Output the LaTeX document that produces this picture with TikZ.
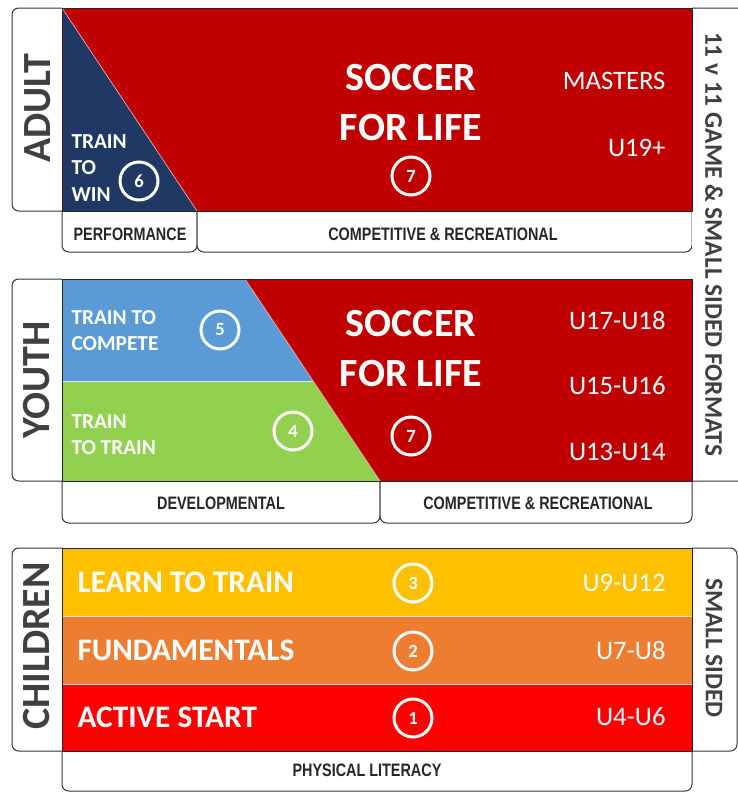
\documentclass[tikz,border=0pt]{standalone}
\usepackage{fontspec}
\setmainfont{Carlito}
\newfontfamily\narrowfont[FakeStretch=0.8]{Liberation Sans}

\definecolor{sflred}{RGB}{192,0,0}
\definecolor{winnavy}{RGB}{31,56,100}
\definecolor{compblue}{RGB}{91,155,213}
\definecolor{traingreen}{RGB}{146,208,80}
\definecolor{learnyellow}{RGB}{255,192,0}
\definecolor{fundorange}{RGB}{237,125,49}
\definecolor{startred}{RGB}{255,0,0}
\definecolor{lblgray}{RGB}{64,64,64}

\tikzset{every picture/.style={line width=0.75pt}}

\begin{document}
\begin{tikzpicture}[x=0.75pt,y=0.75pt,yscale=-1,xscale=1,
		labelbox/.style={draw=black!80,fill=white,rounded corners=5},
		bandline/.style={draw=black!85},
		agelbl/.style={rotate=90,text=lblgray,font=\fontsize{30}{30}\selectfont\bfseries,inner sep=0.75pt},
		fmtlbl/.style={rotate=-90,text=lblgray,font=\fontsize{19}{19}\selectfont\bfseries,inner sep=0.75pt},
		sfltxt/.style={text=white,align=center,font=\fontsize{30}{37.5}\selectfont\bfseries,inner sep=0.75pt},
		stagetxt/.style={anchor=west,text=white,align=left,font=\fontsize{16}{20}\selectfont\bfseries,inner sep=0.75pt},
		bartxt/.style={anchor=west,text=white,font=\fontsize{23.5}{23.5}\selectfont\bfseries,inner sep=0.75pt},
		agegrp/.style={anchor=east,text=white,font=\fontsize{20}{20}\selectfont,inner sep=0.75pt},
		stepnum/.style={circle,draw=white,line width=2.25pt,minimum size=28.5pt,inner sep=0pt,text=white,font=\fontsize{14}{14}\selectfont\bfseries},
		cattxt/.style={text=black!85,font=\narrowfont\fontsize{13.5}{13.5}\selectfont\bfseries,inner sep=0.75pt}]
		\useasboundingbox (0,0) rectangle (738,793);
		
		%Shape: label boxes, adult
		\draw [labelbox] (62,8) -- (12,8) -- (12,211) -- (62,211) ;
		\draw [labelbox] (62,211) -- (62,252) -- (197,252) -- (197,211) ;
		\draw [labelbox] (197,211) -- (197,252) -- (692,252) -- (692,211) ;
		\draw [labelbox] (692,8) -- (745,8) -- (745,481) -- (692,481) ;
		%Shape: Rectangle, soccer for life adult
		\draw [bandline,fill=sflred] (62,8) -- (692,8) -- (692,211) -- (62,211) -- cycle ;
		%Shape: Triangle, train to win
		\fill [winnavy] (62,8) -- (197,211) -- (62,211) -- cycle ;
		\draw [white!70!sflred,line width=0.5pt] (62,8) -- (197,211) ;
		\draw [bandline] (62,8) -- (692,8) -- (692,211) -- (62,211) -- cycle ;
		
		%Shape: label boxes, youth
		\draw [labelbox] (62,279) -- (12,279) -- (12,481) -- (62,481) ;
		\draw [labelbox] (62,481) -- (62,523) -- (380,523) -- (380,481) ;
		\draw [labelbox] (380,481) -- (380,523) -- (692,523) -- (692,481) ;
		%Shape: Rectangle, soccer for life youth
		\fill [sflred] (62,279) -- (692,279) -- (692,481) -- (62,481) -- cycle ;
		\fill [compblue] (62,279) -- (245,279) -- (313,381) -- (62,381) -- cycle ;
		\fill [traingreen] (62,381) -- (313,381) -- (380,481) -- (62,481) -- cycle ;
		\draw [white!75!compblue,line width=0.5pt] (62,381) -- (313,381) ;
		\draw [white!70!sflred,line width=0.5pt] (245,279) -- (380,481) ;
		\draw [bandline] (62,279) -- (692,279) -- (692,481) -- (62,481) -- cycle ;
		
		%Shape: label boxes, children
		\draw [labelbox] (62,548) -- (12,548) -- (12,751) -- (62,751) ;
		\draw [labelbox] (692,548) -- (737,548) -- (737,751) -- (692,751) ;
		\draw [labelbox] (62,751) -- (62,791) -- (692,791) -- (692,751) ;
		%Shape: Rectangle, children bars
		\fill [learnyellow] (62,548) rectangle (692,616) ;
		\fill [fundorange] (62,616) rectangle (692,684) ;
		\fill [startred] (62,684) rectangle (692,751) ;
		\draw [white!70!fundorange,line width=0.5pt] (62,616) -- (692,616) (62,684) -- (692,684) ;
		\draw [bandline] (62,548) -- (692,548) -- (692,751) -- (62,751) -- cycle ;
		
		%age labels
		\draw (38,108) node [agelbl] (adult) {ADULT};
		\draw (37,380) node [agelbl] (youth) {YOUTH};
		\draw (37,646) node [agelbl] (children) {CHILDREN};
		\draw (714,244) node [fmtlbl] (fullgame) {11 v 11 GAME \& SMALL SIDED FORMATS};
		\draw (714,648) node [fmtlbl] (smallsided) {SMALL SIDED};
		
		%adult texts
		\draw (411,103) node [sfltxt] (sflA) {SOCCER\\FOR LIFE};
		\draw (411,176) node [stepnum] (stepA7) {7};
		\draw (70,168) node [stagetxt] (win) {TRAIN\\TO\\WIN};
		\draw (139,181) node [stepnum] (step6) {6};
		\draw (667,81) node [agegrp] (masters) {MASTERS};
		\draw (667,148) node [agegrp] (u19) {U19+};
		\draw (130,234) node [cattxt] (perf) {PERFORMANCE};
		\draw (443,234) node [cattxt] (compA) {COMPETITIVE \& RECREATIONAL};
		
		%youth texts
		\draw (411,349) node [sfltxt] (sflY) {SOCCER\\FOR LIFE};
		\draw (411,436) node [stepnum] (stepY7) {7};
		\draw (70,330.5) node [stagetxt] (compete) {TRAIN TO\\COMPETE};
		\draw (220,330) node [stepnum] (step5) {5};
		\draw (70,434.5) node [stagetxt] (totrain) {TRAIN\\TO TRAIN};
		\draw (293,431) node [stepnum] (step4) {4};
		\draw (667,320) node [agegrp] (u17) {U17-U18};
		\draw (667,386) node [agegrp] (u15) {U15-U16};
		\draw (667,452) node [agegrp] (u13) {U13-U14};
		\draw (221,503) node [cattxt] (devel) {DEVELOPMENTAL};
		\draw (538,503) node [cattxt] (compY) {COMPETITIVE \& RECREATIONAL};
		
		%children texts
		\draw (76,582) node [bartxt] (learn) {LEARN TO TRAIN};
		\draw (76,650) node [bartxt] (fund) {FUNDAMENTALS};
		\draw (76,717) node [bartxt] (active) {ACTIVE START};
		\draw (413,583) node [stepnum] (step3) {3};
		\draw (413,651) node [stepnum] (step2) {2};
		\draw (413,718) node [stepnum] (step1) {1};
		\draw (667,583) node [agegrp] (u9) {U9-U12};
		\draw (667,650) node [agegrp] (u7) {U7-U8};
		\draw (667,717) node [agegrp] (u4) {U4-U6};
		\draw (367,770) node [cattxt] (physlit) {PHYSICAL LITERACY};
		
	\end{tikzpicture}
\end{document}
